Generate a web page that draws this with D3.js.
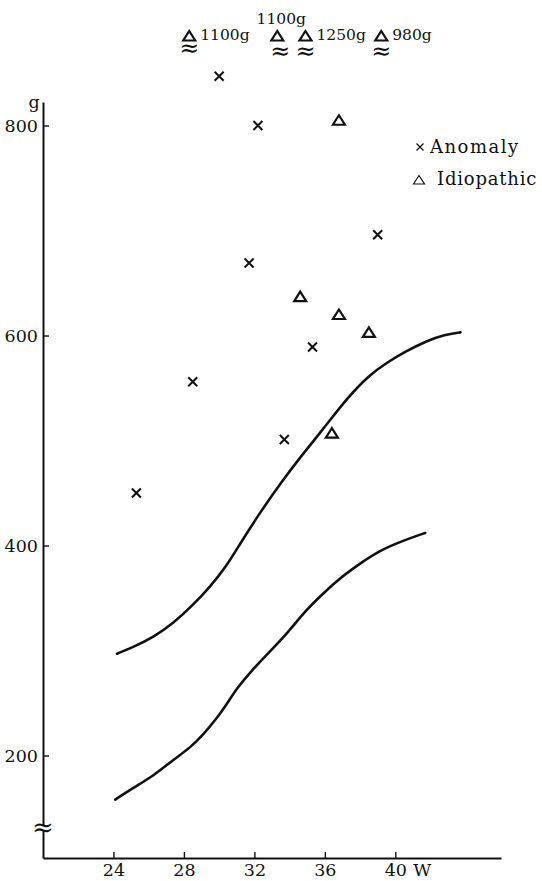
<!DOCTYPE html>
<html>
<head>
<meta charset="utf-8">
<script src="https://cdn.jsdelivr.net/npm/d3@7"></script>
<style>
	body { margin: 0; background: #fff; }
	svg { display: block; background: #fff; }
	text { font-family: "DejaVu Serif", serif; fill: #111; }
</style>
</head>
<body>
<div id="chart-area"></div>
<script>

// DATA (gestational weeks, grams)

// reference curves
let upperWeeks = [24.2, 25.1, 26.3, 27.4, 28.5, 29.5, 30.4, 31.2, 32.3, 33.6, 34.6, 36.0, 37.3, 38.5, 39.5, 40.6, 41.8, 42.8, 43.7];
let upperGrams = [297, 303, 313, 326, 343, 361, 380, 402, 431, 462, 484, 513, 541, 562, 574, 585, 595, 601, 603];

let lowerWeeks = [24.1, 25.1, 26.3, 27.4, 28.4, 29.1, 29.8, 30.4, 31.0, 31.8, 32.7, 33.9, 34.8, 35.7, 36.7, 38.0, 39.2, 40.5, 41.7];
let lowerGrams = [158, 169, 181, 196, 208, 220, 234, 248, 264, 280, 296, 317, 336, 351, 367, 383, 396, 405, 412];

// cases
let anomalyWeeks = [25.3, 28.5, 30.0, 31.7, 32.2, 33.7, 35.3, 39.0];
let anomalyGrams = [450, 556, 847, 669, 800, 501, 589, 696];

let idiopathicWeeks = [34.6, 36.4, 36.8, 36.8, 38.5, 28.3, 33.3, 34.9, 39.2];
let idiopathicGrams = [637, 507, 620, 805, 603, 1100, 1100, 1250, 980];

// axis
let xTicks = [24, 28, 32, 36, 40];
let yTicks = [200, 400, 600, 800];

// values above this are drawn on the broken row at the top
let breakAbove = 900;
// where the label of each off-scale value sits
let offLabelAbove = [false, true, false, false];


// CHART AREA

let margin = {top: 102, right: 41, bottom: 23, left: 43},
	width = 542 - margin.left - margin.right,
	height = 881 - margin.top - margin.bottom;

let svg = d3.select("#chart-area").append("svg")
	.attr("width", width + margin.left + margin.right)
	.attr("height", height + margin.top + margin.bottom)
	.append("g")
	.attr("transform", "translate(" + margin.left + "," + margin.top + ")");

// scales
let xScale = d3.scaleLinear()
	.domain([20, 46])
	.range([0, width]);

let yScale = d3.scaleLinear()
	.domain([102.4, 102.4 + height / 1.05])
	.range([height, 0]);


// AXIS

let xAxis = d3.axisBottom(xScale)
	.tickValues(xTicks)
	.tickSizeInner(-6)
	.tickSizeOuter(0)
	.tickPadding(6);

let yAxis = d3.axisLeft(yScale)
	.tickValues(yTicks)
	.tickSizeInner(-6)
	.tickSizeOuter(0)
	.tickPadding(5);

let xAxisGroup = svg.append("g")
	.attr("class", "x-axis axis")
	.attr("transform", "translate(0," + height + ")")
	.call(xAxis);

let yAxisGroup = svg.append("g")
	.attr("class", "y-axis axis")
	.call(yAxis);

svg.selectAll(".axis path.domain")
	.attr("stroke", "#111")
	.attr("stroke-width", 2);

svg.selectAll(".axis .tick line")
	.attr("stroke", "#111")
	.attr("stroke-width", 1.4);

svg.selectAll(".axis text")
	.style("font-size", "17.5px")
	.style("font-family", "DejaVu Serif, serif")
	.attr("fill", "#111");

// unit labels
svg.append("text")
	.attr("x", -9)
	.attr("y", 6)
	.style("text-anchor", "middle")
	.style("font-size", "17.5px")
	.text("g");

xAxisGroup.append("text")
	.attr("x", xScale(40) + 18)
	.attr("y", 6)
	.attr("dy", "0.71em")
	.style("text-anchor", "start")
	.style("font-size", "17.5px")
	.attr("fill", "#111")
	.text("W");

// break mark on the y axis
let yBreak = height - 30;
svg.append("rect")
	.attr("x", -8)
	.attr("y", yBreak - 2)
	.attr("width", 16)
	.attr("height", 4)
	.attr("fill", "#fff");

svg.append("text")
	.attr("x", 0)
	.attr("y", yBreak)
	.attr("dy", "0.3em")
	.style("text-anchor", "middle")
	.style("font-size", "26px")
	.text("\u2248");


// ---- DRAW CURVES ----

let line = d3.line()
	.x(d => xScale(d[0]))
	.y(d => yScale(d[1]))
	.curve(d3.curveBasis);

[[upperWeeks, upperGrams], [lowerWeeks, lowerGrams]].forEach(function(c) {
	svg.append("path")
		.datum(d3.zip(c[0], c[1]))
		.attr("class", "curve")
		.attr("d", line)
		.attr("fill", "none")
		.attr("stroke", "#111")
		.attr("stroke-width", 2.6)
		.attr("stroke-linecap", "round");
});


// ---- DRAW POINTS ----

let crossPath = "M-4.5,-4.5L4.5,4.5M-4.5,4.5L4.5,-4.5";
let triPath = "M0,-5L6,4.5L-6,4.5Z";

svg.selectAll(".anomaly")
	.data(d3.zip(anomalyWeeks, anomalyGrams))
	.enter()
	.append("path")
	.attr("class", "anomaly")
	.attr("transform", d => "translate(" + xScale(d[0]) + "," + yScale(d[1]) + ")")
	.attr("d", crossPath)
	.attr("stroke", "#111")
	.attr("stroke-width", 2);

let idio = d3.zip(idiopathicWeeks, idiopathicGrams);

svg.selectAll(".idiopathic")
	.data(idio.filter(d => d[1] <= breakAbove))
	.enter()
	.append("path")
	.attr("class", "idiopathic")
	.attr("transform", d => "translate(" + xScale(d[0]) + "," + yScale(d[1]) + ")")
	.attr("d", triPath)
	.attr("fill", "none")
	.attr("stroke", "#111")
	.attr("stroke-width", 2.2);

// off-scale values, drawn above the axis with a break sign
let offY = -66;
let off = svg.selectAll(".off-scale")
	.data(idio.filter(d => d[1] > breakAbove))
	.enter()
	.append("g")
	.attr("class", "off-scale")
	.attr("transform", d => "translate(" + xScale(d[0]) + "," + offY + ")");

off.append("path")
	.attr("d", triPath)
	.attr("fill", "none")
	.attr("stroke", "#111")
	.attr("stroke-width", 2.2);

off.append("text")
	.attr("x", (d, i) => offLabelAbove[i] ? 3 : 0)
	.attr("y", (d, i) => i == 0 ? 13 : 16)
	.attr("dy", "0.3em")
	.style("text-anchor", "middle")
	.style("font-size", "24px")
	.text("\u2248");

off.append("text")
	.attr("x", (d, i) => offLabelAbove[i] ? 4 : 11)
	.attr("y", (d, i) => offLabelAbove[i] ? -12 : 4)
	.style("text-anchor", (d, i) => offLabelAbove[i] ? "middle" : "start")
	.style("font-size", "15.5px")
	.text(d => d[1] + "g");


// ---- LEGEND ----

let legend = svg.append("g")
	.attr("class", "legend")
	.attr("transform", "translate(" + (width - 81) + ",0)");

legend.append("path")
	.attr("transform", "translate(0,45)")
	.attr("d", "M-3.5,-3.5L3.5,3.5M-3.5,3.5L3.5,-3.5")
	.attr("stroke", "#111")
	.attr("stroke-width", 1.2);

legend.append("path")
	.attr("transform", "translate(-1,78)")
	.attr("d", "M0,-4.5L5.5,4L-5.5,4Z")
	.attr("fill", "none")
	.attr("stroke", "#111")
	.attr("stroke-width", 1.2);

legend.append("text")
	.attr("x", 10)
	.attr("y", 51)
	.style("font-size", "18px")
	.style("letter-spacing", "1.5px")
	.text("Anomaly");

legend.append("text")
	.attr("x", 17)
	.attr("y", 83)
	.style("font-size", "18px")
	.style("letter-spacing", "0.8px")
	.text("Idiopathic");

</script>
</body>
</html>
